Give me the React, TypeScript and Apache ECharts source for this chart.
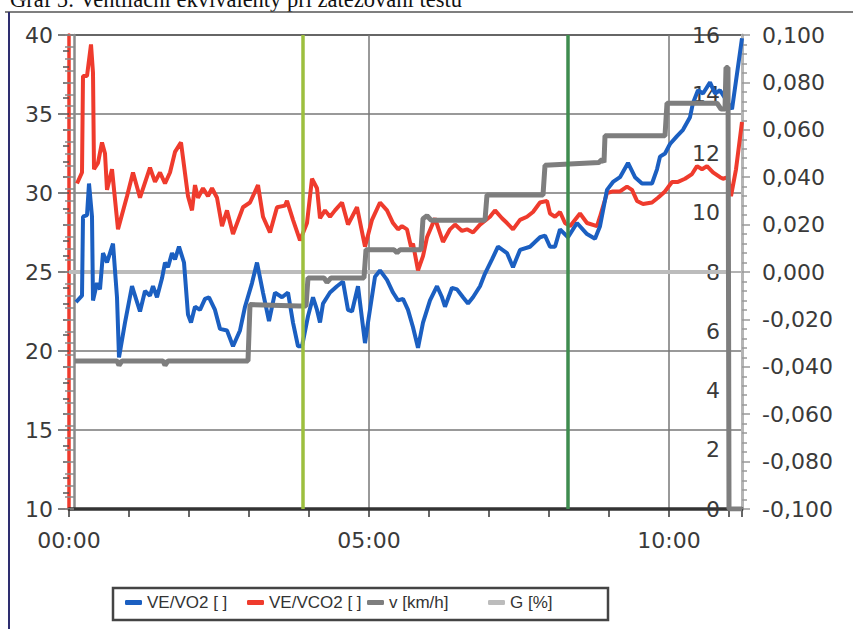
import React, { useEffect, useRef } from "react";
import * as echarts from "echarts";

// ---- data (time in seconds) ----
const veVo2Time = [7, 13, 14, 18, 20, 23, 24, 28, 31, 34, 38, 44, 48, 50, 56, 63, 71, 76, 81, 84, 88, 93, 96, 99, 103, 106, 110, 115, 119, 122, 126, 131, 136, 140, 146, 151, 158, 164, 171, 176, 183, 188, 194, 200, 206, 213, 219, 224, 229, 233, 239, 244, 248, 251, 254, 261, 268, 274, 279, 283, 289, 296, 299, 306, 311, 318, 324, 329, 334, 339, 344, 349, 354, 361, 368, 373, 376, 383, 388, 394, 399, 404, 411, 416, 423, 429, 438, 444, 451, 461, 471, 476, 481, 486, 491, 499, 508, 518, 526, 531, 538, 544, 551, 559, 566, 573, 583, 588, 591, 596, 601, 608, 614, 621, 624, 629, 634, 641, 646, 651, 656, 663, 673];
const veVo2Values = [23.1, 23.5, 28.5, 28.6, 30.6, 28.5, 23.2, 24.3, 23.9, 26.2, 25.6, 26.8, 23.4, 19.6, 21.8, 24.1, 22.5, 23.8, 23.5, 24.1, 23.4, 24.6, 25.6, 25.3, 26.2, 25.8, 26.6, 25.6, 22.3, 21.8, 22.8, 22.6, 23.3, 23.4, 22.6, 21.4, 21.3, 20.3, 21.3, 22.8, 24.3, 25.6, 23.7, 21.9, 23.7, 23.4, 23.7, 21.8, 20.3, 20.3, 22.2, 23.4, 22.6, 21.8, 23.0, 23.7, 24.1, 24.4, 22.6, 22.5, 24.1, 20.5, 21.8, 24.7, 25.1, 24.5, 23.7, 23.2, 23.3, 22.6, 21.5, 20.2, 21.8, 23.2, 24.1, 23.4, 22.8, 24.0, 23.9, 23.4, 23.0, 23.4, 24.1, 24.9, 25.8, 26.6, 26.2, 25.3, 26.4, 26.6, 27.2, 27.3, 26.6, 26.6, 27.7, 27.2, 28.1, 27.4, 27.1, 27.9, 30.2, 30.7, 31.0, 31.9, 31.0, 30.6, 30.6, 31.5, 32.3, 32.5, 33.1, 33.6, 34.0, 34.8, 35.7, 36.5, 36.3, 37.0, 36.3, 36.5, 36.0, 35.3, 39.8];

const veVco2Time = [8, 13, 14, 18, 22, 24, 25, 29, 33, 36, 38, 43, 49, 58, 64, 71, 81, 86, 91, 96, 101, 106, 112, 119, 123, 126, 129, 134, 139, 143, 148, 153, 158, 164, 174, 181, 189, 194, 201, 208, 216, 218, 224, 231, 238, 243, 248, 251, 256, 261, 266, 273, 279, 288, 296, 303, 311, 318, 324, 329, 333, 338, 342, 344, 349, 354, 358, 366, 374, 381, 386, 393, 398, 404, 411, 421, 426, 433, 438, 444, 451, 458, 464, 471, 478, 481, 486, 491, 496, 501, 511, 518, 528, 531, 538, 544, 551, 558, 563, 568, 574, 583, 589, 596, 603, 609, 616, 623, 628, 633, 638, 644, 651, 654, 659, 662, 667, 673];
const veVco2Values = [30.6, 31.3, 37.4, 37.4, 39.4, 37.6, 31.5, 31.9, 33.2, 32.5, 30.2, 31.5, 27.7, 29.8, 31.3, 29.7, 31.6, 30.7, 31.3, 30.6, 31.3, 32.6, 33.2, 29.8, 28.9, 30.5, 29.7, 30.3, 29.8, 30.3, 29.7, 27.9, 28.9, 27.4, 29.1, 29.4, 30.5, 28.5, 27.5, 29.1, 29.2, 29.5, 28.3, 27.0, 28.1, 30.9, 30.3, 28.4, 28.9, 28.5, 28.9, 29.4, 28.0, 29.1, 26.6, 28.3, 29.4, 28.9, 28.1, 27.7, 27.9, 27.7, 26.6, 26.8, 25.1, 26.0, 27.2, 28.4, 26.9, 27.7, 28.0, 27.6, 27.7, 27.5, 28.0, 28.5, 28.9, 28.4, 28.1, 27.7, 28.3, 28.5, 28.8, 29.4, 29.5, 28.7, 28.5, 28.8, 28.1, 27.9, 28.7, 28.1, 27.9, 28.5, 30.0, 30.1, 30.1, 30.4, 30.2, 29.5, 29.3, 29.4, 29.7, 30.1, 30.7, 30.7, 30.9, 31.2, 31.7, 31.5, 31.7, 31.3, 31.0, 30.9, 31.0, 29.8, 31.5, 34.5];

const speedTime = [6, 48, 50, 53, 94, 96, 99, 179, 181, 230, 237, 239, 255, 258, 262, 295, 297, 325, 328, 331, 352, 354, 358, 362, 416, 418, 474, 476, 530, 533, 535, 536, 596, 598, 648, 652, 656, 657, 659, 660, 673];
const speedValues = [5.0, 5.0, 4.85, 5.0, 5.0, 4.85, 5.0, 5.0, 6.9, 6.85, 6.85, 7.8, 7.8, 7.65, 7.8, 7.8, 8.75, 8.75, 8.65, 8.75, 8.75, 9.8, 9.9, 9.75, 9.75, 10.6, 10.6, 11.6, 11.7, 11.8, 11.7, 12.6, 12.6, 13.7, 13.7, 13.5, 13.5, 14.9, 14.9, 0, 0];

const gradeTime = [0, 660];
const gradeValues = [0, 0];

const markerTimes = [234, 499];
const markerColors = ["#9dbf3e", "#3f8c4f"];

const seriesNames = ["VE/VO2 [ ]", "VE/VCO2 [ ]", "v [km/h]", "G [%]"];
const seriesColors = ["#1b5fc1", "#ef3b2d", "#7e7e7e", "#bcbcbc"];
const legendLefts = [125, 247, 367, 488];

const titleText = "Graf 5: Ventilační ekvivalenty při zatěžování testu";

const zip = (t: number[], v: number[]) => t.map((x, i) => [x, v[i]]);
const pad = (n: number) => (n < 10 ? "0" + n : "" + n);
const mmss = (v: number) => pad(Math.floor(v / 60)) + ":" + pad(Math.round(v % 60));

const FONT = "DejaVu Sans";
const labelStyle = { fontFamily: FONT, fontSize: 22, color: "#3a3a3a" };

export default function App() {
  const ref = useRef<HTMLDivElement>(null);
  useEffect(() => {
    const chart = echarts.init(ref.current!, null, { renderer: "svg" });
    const option: any = {
      animation: false,
      backgroundColor: "#ffffff",
      grid: { left: 69, right: 111, top: 35, bottom: 120, containLabel: false },
      xAxis: [
        {
          type: "value", min: 0, max: 673, interval: 60, position: "bottom",
          axisLine: { show: true, onZero: false, lineStyle: { color: "#333", width: 3.5 } },
          axisTick: { show: true, length: 8, lineStyle: { color: "#333", width: 1.5 } },
          axisLabel: { show: false }, splitLine: { show: false },
        },
        {
          type: "value", min: 0, max: 673, interval: 300, position: "bottom",
          axisLine: { show: false, onZero: false }, axisTick: { show: false },
          axisLabel: { ...labelStyle, margin: 20, showMaxLabel: false, formatter: (v: number) => mmss(v) },
          splitLine: { show: true, lineStyle: { color: "#777", width: 1.5 } },
        },
      ],
      yAxis: [
        {
          type: "value", min: 10, max: 40, interval: 5, position: "left",
          axisLine: { show: true, lineStyle: { color: "#ef3b2d", width: 3.5 } },
          axisTick: { show: true, length: 11, lineStyle: { color: "#555", width: 1.5 } },
          minorTick: { show: true, splitNumber: 5, length: 6, lineStyle: { color: "#555", width: 1.5 } },
          axisLabel: { ...labelStyle, margin: 16 },
          splitLine: { show: true, lineStyle: { color: ["#555", "#777", "#777", "#999", "#777", "#777", "#333"], width: 1.6 } },
        },
        {
          type: "value", min: 0, max: 16, interval: 2, position: "right", offset: -5,
          axisLine: { show: true, lineStyle: { color: "#8a8a8a", width: 2.5 } },
          axisTick: { show: true, inside: true, length: 9, lineStyle: { color: "#8a8a8a", width: 1.5 } },
          minorTick: { show: true, splitNumber: 5, length: 9, lineStyle: { color: "#8a8a8a", width: 1.5 } },
          axisLabel: { ...labelStyle, inside: true, margin: 17 },
          splitLine: { show: false },
        },
        {
          type: "value", min: -0.1, max: 0.1, interval: 0.02, position: "right",
          axisLine: { show: true, lineStyle: { color: "#b5b5b5", width: 3 } },
          axisTick: { show: true, length: 8, lineStyle: { color: "#999", width: 1.5 } },
          minorTick: { show: true, splitNumber: 5, length: 5, lineStyle: { color: "#999", width: 1.5 } },
          axisLabel: { ...labelStyle, margin: 20, formatter: (v: number) => (Math.abs(v) < 1e-9 ? 0 : v).toFixed(3).replace(".", ",") },
          splitLine: { show: false },
        },
      ],
      legend: seriesNames.map((name, i) => ({
        data: [{ name, icon: "roundRect" }],
        left: legendLefts[i], top: 594, padding: 0, itemGap: 0,
        itemWidth: 17, itemHeight: 5, selectedMode: false,
        textStyle: { fontFamily: "Liberation Sans", fontSize: 17, color: "#333" },
      })),
      graphic: [
        { type: "text", x: 10, y: -1, style: { text: titleText, fontFamily: "Liberation Serif", fontSize: 22.5, fill: "#111", verticalAlign: "middle" } },
        { type: "line", shape: { x1: 5, y1: 12, x2: 853, y2: 12 }, style: { stroke: "#555", lineWidth: 1.5 } },
        { type: "line", shape: { x1: 9, y1: 12, x2: 9, y2: 629 }, style: { stroke: "#2e2e70", lineWidth: 2 } },
        { type: "rect", shape: { x: 113, y: 588, width: 495, height: 32 }, style: { fill: "none", stroke: "#444", lineWidth: 2.5 } },
      ],
      series: [
        {
          name: seriesNames[3], type: "line", xAxisIndex: 0, yAxisIndex: 2, z: 1,
          data: zip(gradeTime, gradeValues), symbol: "none", color: seriesColors[3],
          lineStyle: { color: seriesColors[3], width: 4 },
          markLine: {
            silent: true, symbol: ["none", "none"], label: { show: false },
            data: markerTimes.map((t, i) => ({ xAxis: t, lineStyle: { color: markerColors[i], width: 3.5, type: "solid" } })),
          },
        },
        {
          name: seriesNames[1], type: "line", xAxisIndex: 0, yAxisIndex: 0, z: 2,
          data: zip(veVco2Time, veVco2Values), symbol: "none", color: seriesColors[1],
          lineStyle: { color: seriesColors[1], width: 4 },
        },
        {
          name: seriesNames[0], type: "line", xAxisIndex: 0, yAxisIndex: 0, z: 3,
          data: zip(veVo2Time, veVo2Values), symbol: "none", color: seriesColors[0],
          lineStyle: { color: seriesColors[0], width: 4 },
        },
        {
          name: seriesNames[2], type: "line", xAxisIndex: 0, yAxisIndex: 1, z: 4,
          data: zip(speedTime, speedValues), symbol: "none", color: seriesColors[2],
          lineStyle: { color: seriesColors[2], width: 5 },
        },
      ],
    };
    chart.setOption(option);
    return () => chart.dispose();
  }, []);
  return <div ref={ref} style={{ position: "fixed", left: 0, top: 0, width: 853, height: 629 }} />;
}
